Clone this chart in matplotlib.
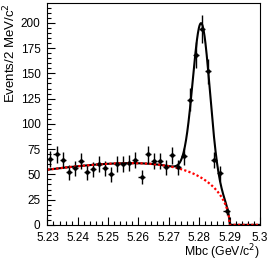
#! /usr/bin/env python3

import numpy as np
import matplotlib
matplotlib.use("Agg")
from matplotlib import pyplot as plt
from matplotlib.ticker import MultipleLocator

# bin centres (GeV/c^2), 2 MeV bins
mbc = [5.231, 5.233, 5.235, 5.237, 5.239, 5.241, 5.243, 5.245, 5.247, 5.249,
       5.251, 5.253, 5.255, 5.257, 5.259, 5.261, 5.263, 5.265, 5.267, 5.269,
       5.271, 5.273, 5.275, 5.277, 5.279, 5.281, 5.283, 5.285, 5.287, 5.289]
events = [65, 70, 64, 52, 56, 63, 52, 55, 60, 56,
          50, 60, 60, 61, 64, 47, 70, 63, 63, 57,
          69, 57, 68, 124, 168, 194, 152, 64, 51, 14]

# fit parameters
sig_mean = 5.2807
sig_sigma = 0.0028
sig_height = 153.0
bkg_endpoint = 5.29
bkg_shape = -40.0
bkg_norm = 907.0


def argus(m):
    x = m / bkg_endpoint
    q = np.clip(1.0 - x * x, 0.0, None)
    return bkg_norm * x * np.sqrt(q) * np.exp(bkg_shape * q)


def gauss(m):
    return sig_height * np.exp(-0.5 * ((m - sig_mean) / sig_sigma) ** 2)


def main():
    plt.rcParams["font.family"] = ["Liberation Sans", "DejaVu Sans"]
    plt.rcParams["font.size"] = 8.5

    fig = plt.figure(figsize = (2.71, 2.63), dpi = 100)
    ax = fig.add_axes([0.175, 0.145, 0.784, 0.843])

    x = np.array(mbc)
    y = np.array(events, dtype = float)
    ax.errorbar(x, y, xerr = 0.001, yerr = np.sqrt(y), fmt = 'o', color = 'k',
                ms = 2.2, lw = 1.0, capsize = 0)

    m = np.linspace(5.23, 5.30, 700)
    ax.plot(m, argus(m) + gauss(m) * (m < 5.2905), color = 'k', lw = 1.5)
    ax.plot(m, argus(m), color = 'red', lw = 1.6, ls = (0, (1.0, 1.0)))

    ax.set_xlim(5.23, 5.30)
    ax.set_ylim(0, 219.5)
    ax.xaxis.set_major_locator(MultipleLocator(0.01))
    ax.xaxis.set_minor_locator(MultipleLocator(0.002))
    ax.yaxis.set_major_locator(MultipleLocator(25))
    ax.yaxis.set_minor_locator(MultipleLocator(5))
    ax.set_xticks(np.arange(5.23, 5.3001, 0.01))
    ax.set_xticklabels(["5.23", "5.24", "5.25", "5.26", "5.27", "5.28", "5.29", "5.3"])
    ax.tick_params(which = 'both', direction = 'in', top = False, right = False)
    ax.tick_params(which = 'major', length = 6, width = 0.8)
    ax.tick_params(which = 'minor', length = 3, width = 0.8)
    ax.tick_params(axis = 'x', pad = 5)
    ax.tick_params(axis = 'y', pad = 5)

    ax.set_xlabel(r"Mbc (GeV/c$^2$)", loc = 'right', labelpad = -1, fontsize = 8.8)
    ax.set_ylabel(r"Events/2 MeV/c$^2$", loc = 'top', labelpad = 1.5, fontsize = 9.5)

    fig.savefig("out.png", dpi = 100)


if __name__ == "__main__":
    main()
